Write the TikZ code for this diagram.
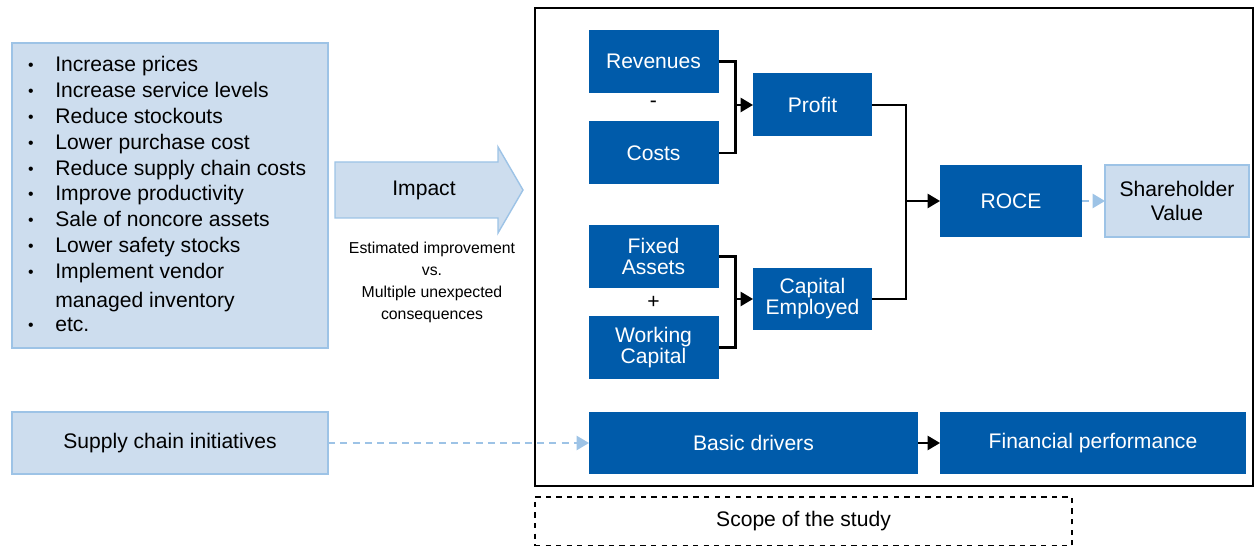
\documentclass[tikz,border=0pt]{standalone}
\usepackage{fontspec}
\setmainfont{Liberation Sans}
\usetikzlibrary{arrows.meta}

\definecolor{driverblue}{RGB}{0,91,170}
\definecolor{paleblue}{RGB}{205,221,238}
\definecolor{edgeblue}{RGB}{157,195,230}

\tikzset{
  sz/.style 2 args={minimum width=#1*0.02cm, minimum height=#2*0.02cm},
  darkbox/.style={fill=driverblue, text=white, inner sep=1pt, outer sep=0pt,
    align=center, font=\fontsize{12}{12}\selectfont},
  palebox/.style={fill=paleblue, draw=edgeblue, line width=0.8pt, inner sep=1pt,
    outer sep=0pt, align=center, font=\fontsize{12}{13.6}\selectfont},
  plain/.style={inner sep=0pt, font=\fontsize{12}{14}\selectfont},
  link/.style={line width=1.2pt, black},
  tip/.style={-{Triangle[length=7pt,width=8pt]}},
  hint/.style={edgeblue, line width=1.2pt, dash pattern=on 4pt off 3pt,
    -{Triangle[length=7pt,width=8pt]}},
}

\begin{document}
\begin{tikzpicture}[x=0.02cm, y=-0.02cm] % one unit = one pixel of the reference

  \useasboundingbox (0,0) rectangle (1255,546);

  % list of initiatives
  \node[palebox, sz={316}{305}] (ideas) at (170,195.5) {};
  \foreach \y/\t [count=\i] in {72/Increase prices, 97.8/Increase service levels,
      123.6/Reduce stockouts, 149.4/Lower purchase cost, 175.2/Reduce supply chain costs,
      201/Improve productivity, 226.8/Sale of noncore assets, 252.6/Lower safety stocks,
      278.4/Implement vendor, 332/etc.}
  {
    \node[plain, anchor=base west] (item\i) at (55,\y) {\t};
    \node[plain, anchor=base, font=\fontsize{9}{10}\selectfont] (dot\i) at (31,\y-1) {\textbullet};
  }
  \node[plain, anchor=base west] (item11) at (55,308) {managed inventory};

  % impact arrow
  \draw[fill=paleblue, draw=edgeblue, line width=0.8pt]
    (335,162) -- (498,162) -- (498,147) -- (523,190) -- (498,233) -- (498,218) -- (335,218) -- cycle;
  \node[plain] (impact) at (424,190) {Impact};
  \node[align=center, inner sep=0pt, font=\fontsize{9}{12.5}\selectfont] (tradeoff) at (432,282)
    {Estimated improvement\\vs.\\Multiple unexpected\\consequences};

  % frames
  \draw[line width=0.7pt] (535,8) rectangle (1253,486);
  \node[draw, dashed, line width=0.9pt, sz={537}{49}, plain] (scope) at (803.5,521.5) {Scope of the study};

  % drivers tree
  \node[darkbox, sz={130}{63}] (rev) at (653.5,61.5) {Revenues};
  \node[darkbox, sz={130}{63}] (cost) at (653.5,153) {Costs};
  \node[plain] (minus) at (653.5,104) {-};
  \node[darkbox, sz={119}{63}] (profit) at (812.5,105) {Profit};

  \node[darkbox, sz={130}{63}] (fixed) at (653.5,256.5) {Fixed\\Assets};
  \node[darkbox, sz={130}{63}] (work) at (653.5,347.5) {Working\\Capital};
  \node[plain] (plus) at (653.5,302) {+};
  \node[darkbox, sz={119}{62}] (capemp) at (812.5,299) {Capital\\Employed};

  \node[darkbox, sz={142}{72}] (roce) at (1011,201) {ROCE};
  \node[palebox, sz={144}{72}] (sv) at (1177,201) {Shareholder\\Value};

  \node[palebox, sz={316}{62}] (sci) at (170,443) {Supply chain initiatives};
  \node[darkbox, sz={329}{62}] (basic) at (753.5,443) {Basic drivers};
  \node[darkbox, sz={306}{62}] (finperf) at (1093,443) {Financial performance};

  % connectors
  \coordinate (jp) at (735.5,105);
  \coordinate (jc) at (735.5,299);
  \coordinate (jr) at (906,201);
  \draw[link] (rev.east) -| (jp) |- (cost.east);
  \draw[link, tip] (jp) -- (profit.west);
  \draw[link] (fixed.east) -| (jc) |- (work.east);
  \draw[link, tip] (jc) -- (capemp.west);
  \draw[link] (profit.east) -| (jr) |- (capemp.east);
  \draw[link, tip] (jr) -- (roce.west);
  \draw[hint] (roce.east) -- (sv.west);
  \draw[hint] (sci.east) -- (basic.west);
  \draw[link, tip] (basic.east) -- (finperf.west);

\end{tikzpicture}
\end{document}
